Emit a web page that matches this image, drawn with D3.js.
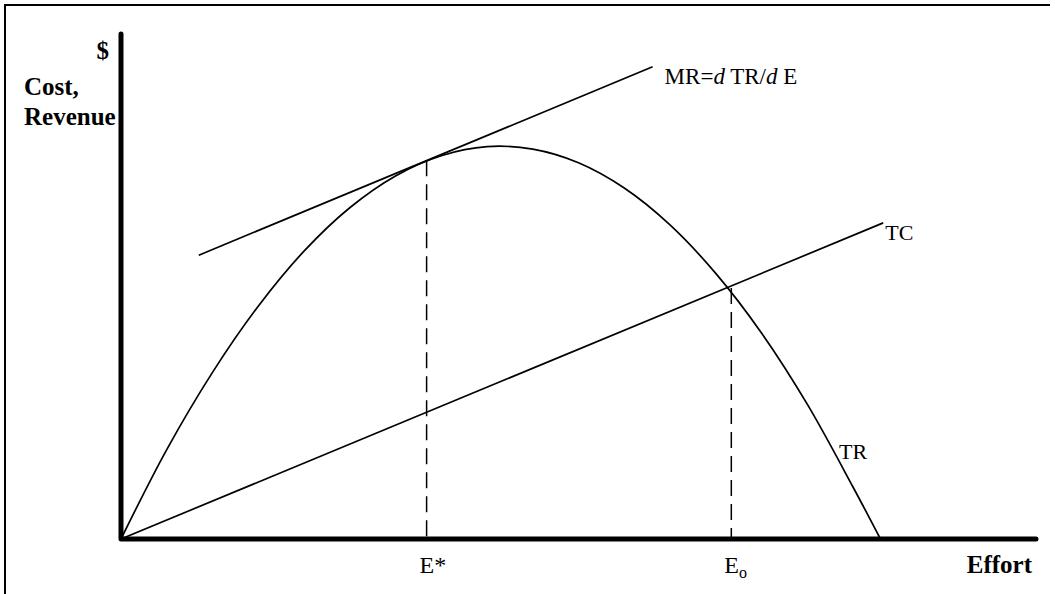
<!DOCTYPE html>
<html lang="en">
<head>
<meta charset="UTF-8">
<title>Cost, Revenue and Effort</title>
<script src="https://d3js.org/d3.v7.min.js"></script>
<style>
  body { margin: 0; background: #fff; }
  svg text { font-family: "Liberation Serif", "Times New Roman", serif; font-size: 23px; fill: #000; }
  .bold { font-weight: bold; font-size: 25px; }
</style>
</head>
<body>
<div id="chart"></div>
<script>
// effort (x) and revenue / cost (y) values
const effort = [0, 5, 10, 15, 20, 25, 30, 35, 40, 45, 50, 55, 60, 65, 70, 75, 80, 83];
const totalRevenue = [0, 17.7, 33.0, 46.1, 57.0, 65.6, 71.9, 75.9, 77.7, 77.2, 74.5, 69.5, 62.2, 52.6, 40.8, 26.7, 10.3, 0];
const tcEffort = [0, 83.3];
const totalCost = [0, 62.6];
const mrEffort = [8.5, 58.1];
const marginalRevenue = [56.2, 93.5];
const markers = [
  { name: "E*", effort: 33.4, top: 75.0 },
  { name: "E", sub: "o", effort: 66.7, top: 49.7 }
];

const W = 1055, H = 594;
const svg = d3.select("#chart").append("svg")
  .attr("width", W).attr("height", H);

// frame (left and top edges only are visible)
svg.append("path")
  .attr("d", "M5,600 L5,5 L1050,5")
  .attr("fill", "none").attr("stroke", "#000").attr("stroke-width", 2);

const x = d3.scaleLinear().domain([0, 100]).range([121, 1036]);
const y = d3.scaleLinear().domain([0, 100]).range([539, 34]);

const line = d3.line().x(d => x(d[0])).y(d => y(d[1]));

// dashed verticals
svg.selectAll(".drop").data(markers).enter().append("line")
  .attr("x1", d => x(d.effort)).attr("x2", d => x(d.effort))
  .attr("y1", d => y(d.top)).attr("y2", y(0))
  .attr("stroke", "#000").attr("stroke-width", 1.5)
  .attr("stroke-dasharray", "16,8");

const curves = [
  d3.zip(effort, totalRevenue),
  d3.zip(tcEffort, totalCost),
  d3.zip(mrEffort, marginalRevenue)
];
svg.selectAll(".curve").data(curves).enter().append("path")
  .attr("d", (d, i) => i === 0 ? line.curve(d3.curveCatmullRom)(d) : line.curve(d3.curveLinear)(d))
  .attr("fill", "none").attr("stroke", "#000").attr("stroke-width", 1.7);

// axes
svg.append("path")
  .attr("d", `M${x(0)},${y(100)} L${x(0)},${y(0)} L${x(100)},${y(0)}`)
  .attr("fill", "none").attr("stroke", "#000").attr("stroke-width", 5)
  .attr("stroke-linecap", "round").attr("stroke-linejoin", "round");

// labels
svg.append("text").attr("class", "bold").attr("x", 109).attr("y", 59)
  .attr("text-anchor", "end").text("$");
svg.append("text").attr("class", "bold").attr("x", 24).attr("y", 95).text("Cost,");
svg.append("text").attr("class", "bold").attr("x", 24).attr("y", 125).text("Revenue");
svg.append("text").attr("class", "bold").attr("x", 1032).attr("y", 573)
  .attr("text-anchor", "end").text("Effort");

const mr = svg.append("text").attr("x", x(mrEffort[1]) + 12).attr("y", 84);
mr.append("tspan").text("MR=");
mr.append("tspan").attr("font-style", "italic").text("d");
mr.append("tspan").text(" TR/");
mr.append("tspan").attr("font-style", "italic").text("d");
mr.append("tspan").text(" E");

svg.append("text").attr("x", x(tcEffort[1]) + 2).attr("y", 240).style("font-size", "22px").text("TC");
svg.append("text").attr("x", 839).attr("y", 459).style("font-size", "22px").text("TR");

const ml = svg.selectAll(".mlabel").data(markers).enter().append("text")
  .attr("x", d => x(d.effort) - 7).attr("y", 573).style("font-size", "24px");
ml.append("tspan").text(d => d.name);
ml.filter(d => d.sub).append("tspan")
  .attr("dy", 5).style("font-size", "16px").text(d => d.sub);
</script>
</body>
</html>
